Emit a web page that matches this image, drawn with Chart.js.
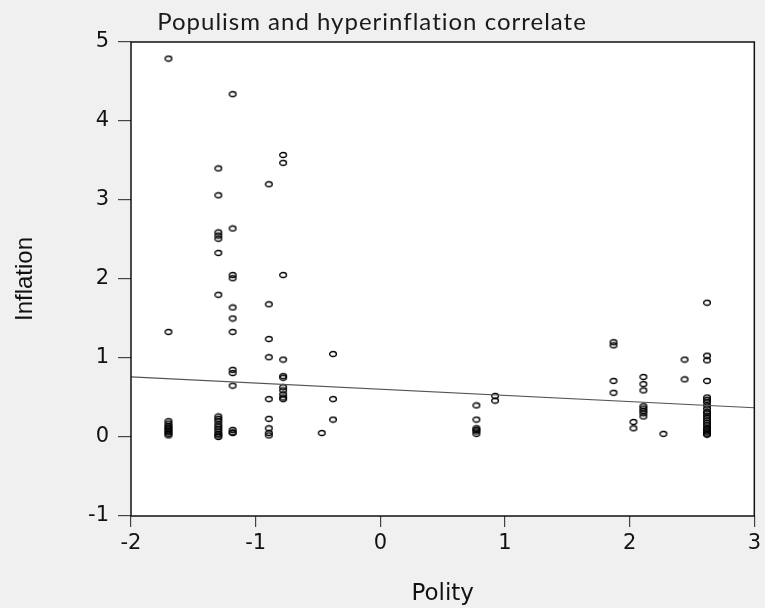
<!DOCTYPE html>
<html>
<head>
<meta charset="utf-8">
<script src="https://cdn.jsdelivr.net/npm/chart.js@4.4.1/dist/chart.umd.min.js"></script>
<style>
  html, body { margin: 0; padding: 0; background: #f0f0f0; }
</style>
</head>
<body>
<canvas id="chart" width="765" height="608"></canvas>
<script>
const polity = [
  -1.70, -1.70, -1.70, -1.70, -1.70, -1.70, -1.70, -1.70, -1.70, -1.70, -1.70,
  -1.30, -1.30, -1.30, -1.30, -1.30, -1.30, -1.30, -1.30, -1.30, -1.30, -1.30, -1.30, -1.30, -1.30, -1.30, -1.30, -1.30,
  -1.185, -1.185, -1.185, -1.185, -1.185, -1.185, -1.185, -1.185, -1.185, -1.185, -1.185, -1.185, -1.185,
  -0.895, -0.895, -0.895, -0.895, -0.895, -0.895, -0.895, -0.895, -0.895,
  -0.78, -0.78, -0.78, -0.78, -0.78, -0.78, -0.78, -0.78, -0.78, -0.78, -0.78,
  -0.47,
  -0.38, -0.38, -0.38,
  0.77, 0.77, 0.77, 0.77, 0.77, 0.77,
  0.92, 0.92,
  1.87, 1.87, 1.87, 1.87,
  2.03, 2.03,
  2.11, 2.11, 2.11, 2.11, 2.11, 2.11, 2.11, 2.11,
  2.27,
  2.44, 2.44,
  2.62, 2.62, 2.62, 2.62, 2.62, 2.62, 2.62, 2.62, 2.62, 2.62, 2.62,
  2.62, 2.62, 2.62, 2.62, 2.62, 2.62, 2.62, 2.62, 2.62, 2.62, 2.62
];
const inflation = [
  4.79, 1.33, 0.20, 0.17, 0.14, 0.12, 0.10, 0.08, 0.06, 0.04, 0.02,
  3.40, 3.06, 2.59, 2.55, 2.51, 2.33, 1.80, 0.26, 0.23, 0.20, 0.16, 0.13, 0.10, 0.07, 0.04, 0.02, 0.00,
  4.34, 2.64, 2.05, 2.01, 1.64, 1.50, 1.33, 0.85, 0.81, 0.65, 0.09, 0.06, 0.05,
  3.20, 1.68, 1.24, 1.01, 0.48, 0.23, 0.11, 0.05, 0.02,
  3.57, 3.47, 2.05, 0.98, 0.77, 0.75, 0.63, 0.59, 0.54, 0.50, 0.48,
  0.05,
  1.05, 0.48, 0.22,
  0.40, 0.22, 0.11, 0.09, 0.07, 0.04,
  0.52, 0.46,
  1.20, 1.16, 0.71, 0.56,
  0.19, 0.11,
  0.76, 0.67, 0.59, 0.39, 0.36, 0.33, 0.30, 0.26,
  0.04,
  0.98, 0.73,
  1.70, 1.03, 0.97, 0.71, 0.50, 0.47, 0.44, 0.40, 0.36, 0.32, 0.30,
  0.27, 0.24, 0.21, 0.18, 0.15, 0.12, 0.10, 0.08, 0.06, 0.04, 0.03
];

// fitted line, its two ends
const fitX = [-2, 3];
const fitY = [0.76, 0.37];

const xTicks = [-2, -1, 0, 1, 2, 3];
const yTicks = [-1, 0, 1, 2, 3, 4, 5];

const chartTitle = 'Populism and hyperinflation correlate';
const xLabel = 'Polity';
const yLabel = 'Inflation';

const points = polity.map((x, i) => ({ x: x, y: inflation[i] }));
const fitLine = fitX.map((x, i) => ({ x: x, y: fitY[i] }));

// small hollow ellipse used as marker
const marker = document.createElement('canvas');
marker.width = 10;
marker.height = 8;
(function () {
  const m = marker.getContext('2d');
  m.strokeStyle = '#000';
  m.lineWidth = 1.3;
  m.beginPath();
  m.ellipse(5, 4, 3.4, 2.5, 0, 0, Math.PI * 2);
  m.stroke();
})();

// grey page, white plot area, frame and the title
const framePlugin = {
  id: 'frame',
  beforeDraw(chart) {
    const c = chart.ctx, a = chart.chartArea;
    c.save();
    c.fillStyle = '#f0f0f0';
    c.fillRect(0, 0, chart.width, chart.height);
    c.fillStyle = '#ffffff';
    c.fillRect(a.left, a.top, a.right - a.left, a.bottom - a.top);
    c.restore();
  },
  afterDraw(chart) {
    const c = chart.ctx, a = chart.chartArea;
    c.save();
    c.strokeStyle = '#111';
    c.lineWidth = 1.5;
    c.strokeRect(a.left, a.top, a.right - a.left, a.bottom - a.top);
    c.font = '24px Lato, "DejaVu Sans", sans-serif';
    c.letterSpacing = '1px';
    c.fillStyle = '#1a1a1a';
    c.textAlign = 'center';
    c.textBaseline = 'alphabetic';
    c.fillText(chartTitle, 372, 30);
    c.restore();
  }
};

const tickFont = { family: '"DejaVu Sans", sans-serif', size: 21 };

new Chart(document.getElementById('chart'), {
  type: 'scatter',
  data: {
    datasets: [
      {
        type: 'line',
        data: fitLine,
        borderColor: '#555',
        borderWidth: 1.2,
        pointRadius: 0,
        fill: false
      },
      {
        data: points,
        pointStyle: marker,
        pointRadius: 4
      }
    ]
  },
  options: {
    responsive: false,
    animation: false,
    events: [],
    layout: { padding: { top: 42, right: 8, left: 0, bottom: 0 } },
    plugins: {
      legend: { display: false },
      title: { display: false },
      tooltip: { enabled: false }
    },
    scales: {
      x: {
        type: 'linear',
        min: -2,
        max: 3,
        afterBuildTicks(scale) { scale.ticks = xTicks.map(v => ({ value: v })); },
        afterFit(scale) { scale.height = 92; },
        border: { display: false },
        grid: { drawOnChartArea: false, drawTicks: true, tickLength: 11, color: '#444', lineWidth: 1.2 },
        ticks: { color: '#111', font: tickFont, padding: 4, maxRotation: 0 },
        title: {
          display: true,
          text: xLabel,
          color: '#111',
          font: { family: '"DejaVu Sans", sans-serif', size: 23 },
          padding: { top: 0, bottom: 0 }
        }
      },
      y: {
        type: 'linear',
        min: -1,
        max: 5,
        afterBuildTicks(scale) { scale.ticks = yTicks.map(v => ({ value: v })); },
        afterFit(scale) { scale.width = 131; },
        border: { display: false },
        grid: { drawOnChartArea: false, drawTicks: true, tickLength: 13, color: '#444', lineWidth: 1.2 },
        ticks: { color: '#111', font: tickFont, padding: 9 },
        title: {
          display: true,
          text: yLabel,
          color: '#111',
          font: { family: '"Liberation Sans Narrow", "Arial Narrow", "Liberation Sans", sans-serif', size: 24 },
          padding: { top: 11, bottom: 0 }
        }
      }
    }
  },
  plugins: [framePlugin]
});
</script>
</body>
</html>
